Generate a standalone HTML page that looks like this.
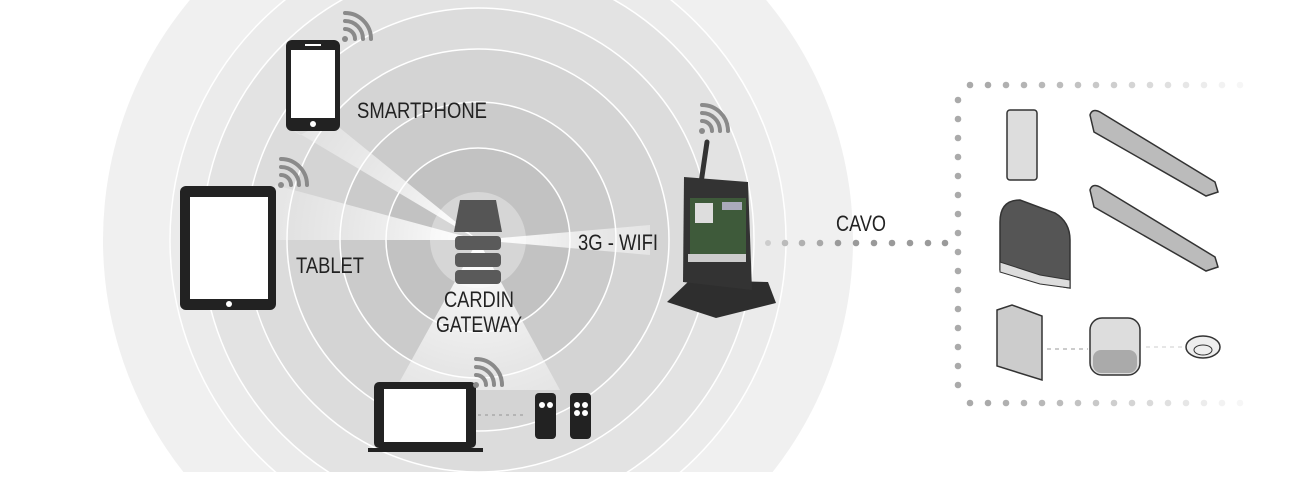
<!DOCTYPE html>
<html><head><meta charset="utf-8"><style>
html,body{margin:0;padding:0;background:#fff;width:1304px;height:477px;overflow:hidden;}
svg{display:block;}
text{font-family:"Liberation Sans",sans-serif;fill:#222;}
</style></head><body>
<svg width="1304" height="477" viewBox="0 0 1304 477" xmlns="http://www.w3.org/2000/svg">
<defs>
<clipPath id="c"><rect x="0" y="0" width="1304" height="472"/></clipPath>
<radialGradient id="beam" cx="478" cy="240" r="300" gradientUnits="userSpaceOnUse">
<stop offset="0" stop-color="#fff" stop-opacity="1"/>
<stop offset="0.6" stop-color="#fff" stop-opacity="0.35"/>
<stop offset="1" stop-color="#fff" stop-opacity="0"/>
</radialGradient>
<g id="wifi" fill="none" stroke="#8a8a8a" stroke-width="4" stroke-linecap="round">
<circle cx="0" cy="0" r="3" fill="#8a8a8a" stroke="none"/>
<path d="M0,-10 A10,10 0 0 1 10,0"/>
<path d="M0,-18 A18,18 0 0 1 18,0"/>
<path d="M0,-26 A26,26 0 0 1 26,0"/>
</g>
</defs>
<g clip-path="url(#c)">
<circle cx="478" cy="240" r="375" fill="#f0f0f0"/>
<circle cx="478" cy="240" r="308" fill="#ebebeb" stroke="#fff" stroke-width="1.5"/>
<circle cx="478" cy="240" r="276" fill="#e3e3e3" stroke="#fff" stroke-width="1.5"/>
<circle cx="478" cy="240" r="232" fill="#dcdcdc" stroke="#fff" stroke-width="1.5"/>
<circle cx="478" cy="240" r="191" fill="#d4d4d4" stroke="#fff" stroke-width="1.5"/>
<circle cx="478" cy="240" r="138" fill="#cbcbcb" stroke="#fff" stroke-width="1.5"/>
<circle cx="478" cy="240" r="92" fill="#c2c2c2" stroke="#fff" stroke-width="1.5"/>
<circle cx="478" cy="240" r="48" fill="#d6d6d6"/>
<polygon points="478,240 285,125 300,135 330,120" fill="url(#beam)"/>
<polygon points="478,240 275,185 275,240" fill="url(#beam)"/>
<polygon points="478,240 650,225 650,255" fill="url(#beam)"/>
<polygon points="478,240 395,390 560,390" fill="url(#beam)"/>
</g>
<rect x="286" y="40" width="54" height="91" rx="6" fill="#222"/>
<rect x="291" y="50" width="44" height="68" fill="#fff"/>
<rect x="305" y="44" width="16" height="2" fill="#fff"/>
<circle cx="313" cy="124" r="3" fill="#fff"/>
<use href="#wifi" x="345" y="39"/>
<text x="357" y="118" font-size="22" textLength="130" lengthAdjust="spacingAndGlyphs">SMARTPHONE</text>
<rect x="180" y="186" width="96" height="124" rx="6" fill="#222"/>
<rect x="190" y="197" width="78" height="102" fill="#fff"/>
<circle cx="229" cy="304" r="3" fill="#fff"/>
<use href="#wifi" x="281" y="185"/>
<text x="296" y="273" font-size="22" textLength="68" lengthAdjust="spacingAndGlyphs">TABLET</text>
<path d="M460,200 L496,200 L502,232 L454,232 Z" fill="#555"/>
<rect x="455" y="236" width="46" height="14" rx="4" fill="#5a5a5a"/>
<rect x="455" y="253" width="46" height="14" rx="4" fill="#5a5a5a"/>
<rect x="455" y="270" width="46" height="14" rx="4" fill="#5a5a5a"/>
<text x="444" y="307" font-size="22" textLength="70" lengthAdjust="spacingAndGlyphs">CARDIN</text>
<text x="436" y="332" font-size="22" textLength="86" lengthAdjust="spacingAndGlyphs">GATEWAY</text>
<text x="578" y="250" font-size="22" textLength="80" lengthAdjust="spacingAndGlyphs">3G - WIFI</text>
<use href="#wifi" x="702" y="131"/>
<line x1="700" y1="190" x2="707" y2="142" stroke="#333" stroke-width="5" stroke-linecap="round"/>
<path d="M667,302 L690,280 L768,282 L776,303 L716,318 Z" fill="#2e2e2e"/>
<path d="M684,177 L748,182 L752,290 L683,282 Z" fill="#333"/>
<rect x="690" y="198" width="56" height="62" fill="#3e5a3a"/>
<rect x="695" y="203" width="18" height="20" fill="#ddd"/>
<rect x="722" y="202" width="20" height="8" fill="#aab"/>
<rect x="688" y="254" width="58" height="8" fill="#ccc"/>
<text x="836" y="231" font-size="22" textLength="50" lengthAdjust="spacingAndGlyphs">CAVO</text>
<g fill="#9a9a9a">
<circle cx="768" cy="243" r="3" fill="#ccc"/><circle cx="785" cy="243" r="3.3" fill="#bbb"/><circle cx="802" cy="243" r="3.3" fill="#b0b0b0"/><circle cx="820" cy="243" r="3.3" fill="#a8a8a8"/><circle cx="838" cy="243" r="3.3"/><circle cx="856" cy="243" r="3.3"/><circle cx="874" cy="243" r="3.3"/><circle cx="892" cy="243" r="3.3"/><circle cx="910" cy="243" r="3.3"/><circle cx="928" cy="243" r="3.3"/><circle cx="945" cy="243" r="3.3"/>
</g>
<rect x="374" y="382" width="102" height="66" rx="5" fill="#222"/>
<rect x="384" y="389" width="82" height="53" fill="#fff"/>
<rect x="368" y="448" width="115" height="4" fill="#222"/>
<use href="#wifi" x="476" y="385"/>
<line x1="478" y1="415" x2="525" y2="415" stroke="#aaa" stroke-width="1.5" stroke-dasharray="3,4"/>
<rect x="535" y="393" width="21" height="46" rx="4" fill="#222"/>
<circle cx="542" cy="405" r="3" fill="#fff"/><circle cx="550" cy="405" r="3" fill="#fff"/>
<rect x="570" y="393" width="21" height="46" rx="4" fill="#222"/>
<circle cx="577" cy="405" r="3" fill="#fff"/><circle cx="585" cy="405" r="3" fill="#fff"/>
<circle cx="577" cy="413" r="3" fill="#fff"/><circle cx="585" cy="413" r="3" fill="#fff"/>
<rect x="1007" y="110" width="30" height="70" rx="3" fill="#ddd" stroke="#333" stroke-width="1.5"/>
<path d="M1090,115 Q1092,108 1100,112 L1215,182 L1218,192 L1206,196 L1094,132 Z" fill="#bbb" stroke="#333" stroke-width="1.5"/>
<path d="M1090,190 Q1092,183 1100,187 L1215,257 L1218,267 L1206,271 L1094,207 Z" fill="#bbb" stroke="#333" stroke-width="1.5"/>
<path d="M1000,222 Q1000,200 1020,200 L1055,213 Q1070,222 1070,240 L1070,288 L1040,283 L1000,270 Z" fill="#555" stroke="#333" stroke-width="1.5"/>
<path d="M1000,262 L1040,275 L1070,280 L1070,288 L1040,284 L1000,272 Z" fill="#ddd" stroke="#333"/>
<path d="M997,310 L1012,305 L1042,316 L1042,380 L997,366 Z" fill="#ccc" stroke="#333" stroke-width="1.5"/>
<line x1="1047" y1="349" x2="1088" y2="349" stroke="#999" stroke-dasharray="4,4"/>
<rect x="1090" y="318" width="50" height="57" rx="12" fill="#ddd" stroke="#333" stroke-width="1.5"/>
<rect x="1093" y="350" width="44" height="23" rx="8" fill="#aaa"/>
<line x1="1146" y1="347" x2="1182" y2="347" stroke="#ccc" stroke-dasharray="4,4"/>
<ellipse cx="1203" cy="347" rx="17" ry="11" fill="#eee" stroke="#333" stroke-width="1.5"/>
<ellipse cx="1203" cy="350" rx="9" ry="5" fill="none" stroke="#333"/>
<g>
<circle cx="958" cy="100" r="3.3" fill="#aaa"/><circle cx="958" cy="119" r="3.3" fill="#aaa"/><circle cx="958" cy="138" r="3.3" fill="#aaa"/><circle cx="958" cy="157" r="3.3" fill="#aaa"/><circle cx="958" cy="176" r="3.3" fill="#aaa"/><circle cx="958" cy="195" r="3.3" fill="#aaa"/><circle cx="958" cy="214" r="3.3" fill="#aaa"/><circle cx="958" cy="233" r="3.3" fill="#aaa"/><circle cx="958" cy="252" r="3.3" fill="#aaa"/><circle cx="958" cy="271" r="3.3" fill="#aaa"/><circle cx="958" cy="290" r="3.3" fill="#aaa"/><circle cx="958" cy="309" r="3.3" fill="#aaa"/><circle cx="958" cy="328" r="3.3" fill="#aaa"/><circle cx="958" cy="347" r="3.3" fill="#aaa"/><circle cx="958" cy="366" r="3.3" fill="#aaa"/><circle cx="958" cy="385" r="3.3" fill="#aaa"/>
<circle cx="970" cy="85" r="3.3" fill="#aaa"/><circle cx="988" cy="85" r="3.3" fill="#aaa"/><circle cx="1006" cy="85" r="3.3" fill="#b0b0b0"/><circle cx="1024" cy="85" r="3.3" fill="#b4b4b4"/><circle cx="1042" cy="85" r="3.3" fill="#b8b8b8"/><circle cx="1060" cy="85" r="3.3" fill="#bcbcbc"/><circle cx="1078" cy="85" r="3.3" fill="#c2c2c2"/><circle cx="1096" cy="85" r="3.3" fill="#c8c8c8"/><circle cx="1114" cy="85" r="3.3" fill="#cecece"/><circle cx="1132" cy="85" r="3.3" fill="#d4d4d4"/><circle cx="1150" cy="85" r="3.3" fill="#dadada"/><circle cx="1168" cy="85" r="3.3" fill="#e0e0e0"/><circle cx="1186" cy="85" r="3.3" fill="#e6e6e6"/><circle cx="1204" cy="85" r="3.3" fill="#ececec"/><circle cx="1222" cy="85" r="3.3" fill="#f2f2f2"/><circle cx="1240" cy="85" r="3.3" fill="#f6f6f6"/>
<circle cx="970" cy="403" r="3.3" fill="#aaa"/><circle cx="988" cy="403" r="3.3" fill="#aaa"/><circle cx="1006" cy="403" r="3.3" fill="#b0b0b0"/><circle cx="1024" cy="403" r="3.3" fill="#b4b4b4"/><circle cx="1042" cy="403" r="3.3" fill="#b8b8b8"/><circle cx="1060" cy="403" r="3.3" fill="#bcbcbc"/><circle cx="1078" cy="403" r="3.3" fill="#c2c2c2"/><circle cx="1096" cy="403" r="3.3" fill="#c8c8c8"/><circle cx="1114" cy="403" r="3.3" fill="#cecece"/><circle cx="1132" cy="403" r="3.3" fill="#d4d4d4"/><circle cx="1150" cy="403" r="3.3" fill="#dadada"/><circle cx="1168" cy="403" r="3.3" fill="#e0e0e0"/><circle cx="1186" cy="403" r="3.3" fill="#e6e6e6"/><circle cx="1204" cy="403" r="3.3" fill="#ececec"/><circle cx="1222" cy="403" r="3.3" fill="#f2f2f2"/><circle cx="1240" cy="403" r="3.3" fill="#f6f6f6"/>
</g>
</svg>
</body></html>
